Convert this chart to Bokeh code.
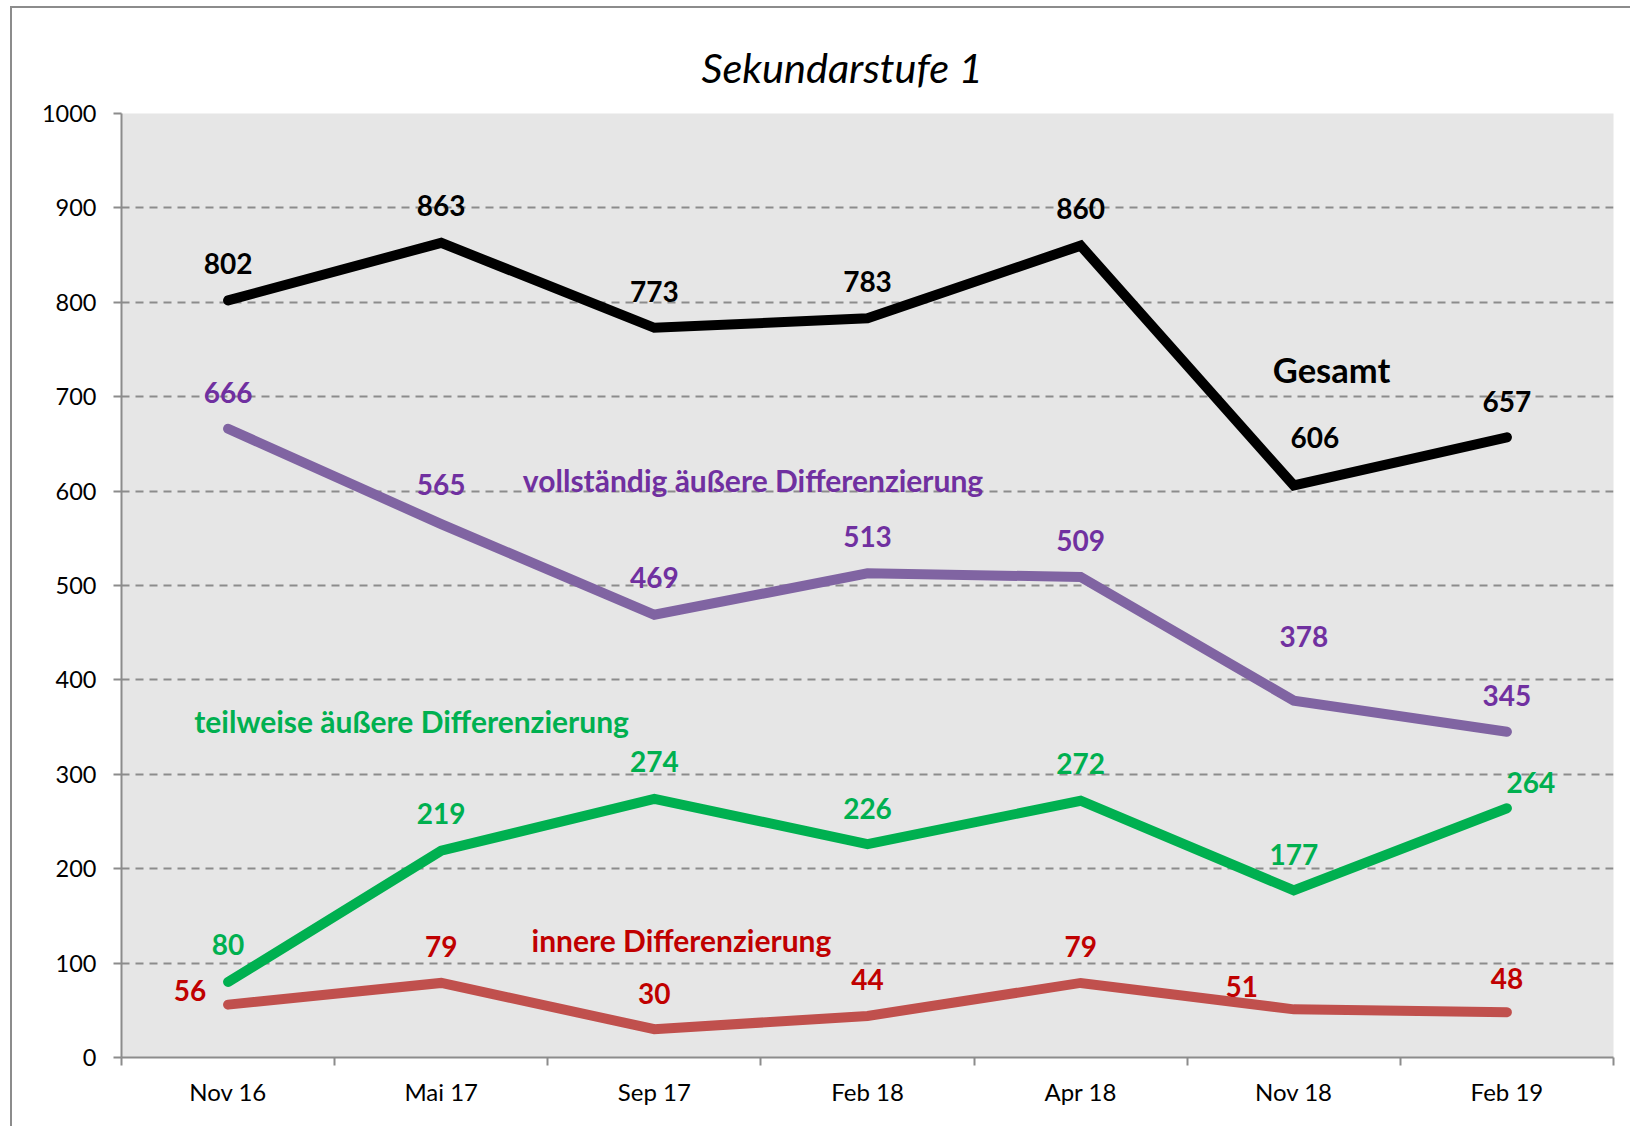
from bokeh.plotting import figure
from bokeh.models import Range1d, FixedTicker, Label, ColumnDataSource
from bokeh.core.properties import value
from bokeh.embed import file_html
from bokeh.resources import INLINE

# ---- data ----
categories = ["Nov 16", "Mai 17", "Sep 17", "Feb 18", "Apr 18", "Nov 18", "Feb 19"]
gesamt = [802, 863, 773, 783, 860, 606, 657]
vollstaendig = [666, 565, 469, 513, 509, 378, 345]
teilweise = [80, 219, 274, 226, 272, 177, 264]
innere = [56, 79, 30, 44, 79, 51, 48]
y_ticks = [0, 100, 200, 300, 400, 500, 600, 700, 800, 900, 1000]
title_text = "Sekundarstufe 1"

FONT = "Lato"
W, H = 1620, 1120
BL, BT = 109, 105
FW, FH = 1492, 944
BR = W - BL - FW
BB = H - BT - FH
N = len(categories)
px_x = N / FW       # data units per pixel (x)
px_y = 1000 / FH    # data units per pixel (y)

p = figure(width=W, height=H, x_range=Range1d(0, N), y_range=Range1d(0, 1000),
           output_backend="svg", toolbar_location=None,
           min_border_left=BL, min_border_right=BR, min_border_top=BT, min_border_bottom=BB)
p.styles = {"margin-left": "12px", "margin-top": "8px",
            "box-shadow": "-2px -2px 0 0 #8c8c8c"}
p.background_fill_color = "#E6E6E6"
p.border_fill_color = "white"
p.outline_line_color = None

p.title.text = title_text
p.title.align = "left"
p.title.text_font = FONT
p.title.text_font_style = "italic"
p.title.text_font_size = "41.5px"
p.title.text_color = "black"
p.title.standoff = 43
p.title.offset = 580

GRAY = "#8c8c8c"
p.xgrid.visible = False
p.ygrid.ticker = FixedTicker(ticks=y_ticks)
p.ygrid.grid_line_color = GRAY
p.ygrid.grid_line_width = 2
p.ygrid.grid_line_dash = "8 6"

p.yaxis.ticker = FixedTicker(ticks=y_ticks)
p.yaxis.axis_line_color = GRAY
p.yaxis.axis_line_width = 2
p.yaxis.major_tick_line_color = GRAY
p.yaxis.major_tick_line_width = 2
p.yaxis.major_tick_out = 8
p.yaxis.major_tick_in = 0
p.yaxis.minor_tick_line_color = None
p.yaxis.major_label_standoff = 17
p.yaxis.major_label_text_font = FONT
p.yaxis.major_label_text_font_size = "23.5px"
p.yaxis.major_label_text_color = "black"

centers = [i + 0.5 for i in range(N)]
p.xaxis.ticker = FixedTicker(ticks=centers, minor_ticks=list(range(N + 1)))
p.xaxis.major_label_overrides = {c: lab for c, lab in zip(centers, categories)}
p.xaxis.axis_line_color = GRAY
p.xaxis.axis_line_width = 2
p.xaxis.major_tick_line_color = None
p.xaxis.major_tick_out = 0
p.xaxis.major_tick_in = 0
p.xaxis.minor_tick_line_color = GRAY
p.xaxis.minor_tick_line_width = 2
p.xaxis.minor_tick_out = 8
p.xaxis.minor_tick_in = 0
p.xaxis.major_label_standoff = 11
p.xaxis.major_label_text_font = FONT
p.xaxis.major_label_text_font_size = "24px"
p.xaxis.major_label_text_color = "black"

series = [
    (vollstaendig, "#8064A2", "#7030A0",
     [(0, 36), (0, 40), (0, 37), (0, 37), (0, 37), (10, 64), (0, 36)]),
    (teilweise, "#00B050", "#00B050",
     [(0, 37), (0, 37), (0, 37), (0, 36), (0, 37), (0, 36), (24, 26)]),
    (innere, "#C0504D", "#C00000",
     [(-38, 14), (0, 36), (0, 36), (0, 36), (0, 36), (-52, 23), (0, 34)]),
    (gesamt, "black", "black",
     [(0, 37), (0, 37), (0, 36), (0, 37), (0, 37), (21, 48), (0, 36)]),
]

for vals, lc, tc, offs in series:
    p.line(centers, vals, line_width=10, line_color=lc, line_cap="round", line_join="miter")
    src = ColumnDataSource(dict(
        x=[c + dx * px_x for c, (dx, dy) in zip(centers, offs)],
        y=[v + dy * px_y for v, (dx, dy) in zip(vals, offs)],
        t=[str(v) for v in vals]))
    p.text("x", "y", text="t", source=src, text_font=value(FONT), text_font_style="bold",
           text_font_size="28px", text_color=tc, text_align="center", text_baseline="middle")

# series names
names = [
    ("Gesamt", 5.677, 729, "black", "34.5px"),
    ("vollständig äußere Differenzierung", 2.963, 612, "#7030A0", "30px"),
    ("teilweise äußere Differenzierung", 1.361, 356, "#00B050", "30px"),
    ("innere Differenzierung", 2.627, 124, "#C00000", "30px"),
]
for t, x, y, c, fs in names:
    p.add_layout(Label(x=x, y=y, text=t, text_font=FONT, text_font_style="bold",
                       text_font_size=fs, text_color=c, text_align="center",
                       text_baseline="middle"))

open("out.html", "w").write(file_html(p, INLINE))
